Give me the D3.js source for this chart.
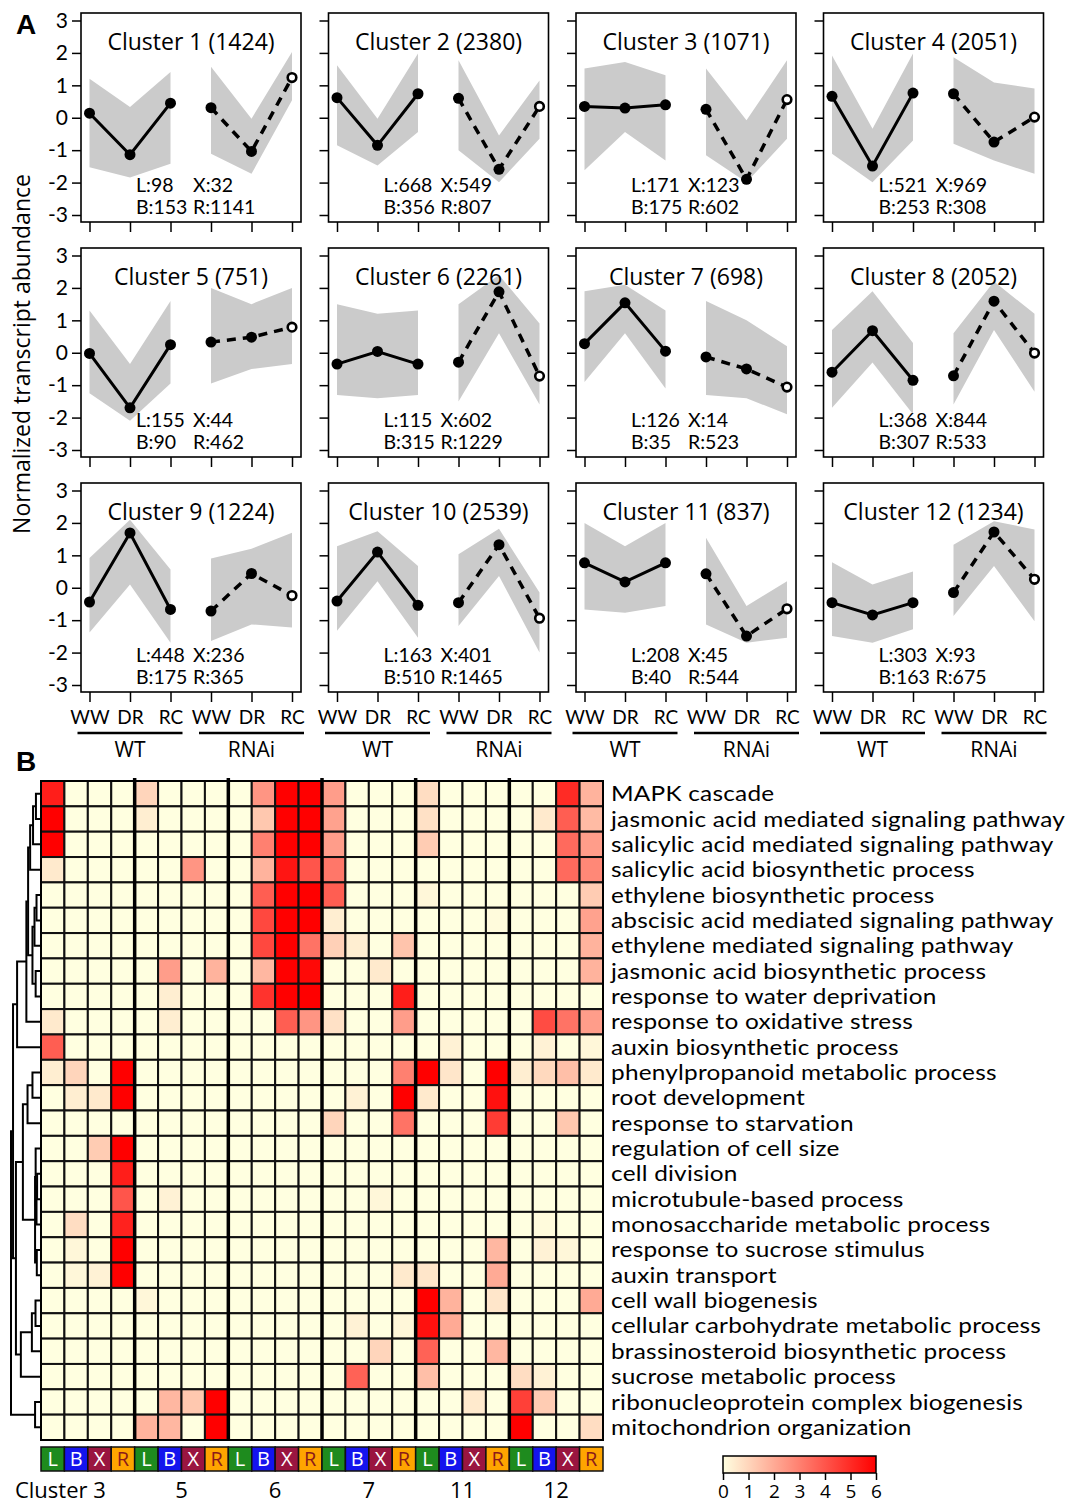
<!DOCTYPE html>
<html>
<head>
<meta charset="utf-8">
<script src="https://cdn.jsdelivr.net/npm/d3@7"></script>
<style>
  body { margin: 0; background: #fff; }
  svg { display: block; font-family: "Open Sans", Lato, sans-serif; }
</style>
</head>
<body>
<svg id="chart" width="1079" height="1505"></svg>
<script>
// ---------- Panel A: cluster expression profiles ----------
const clusterIds   = [1, 2, 3, 4, 5, 6, 7, 8, 9, 10, 11, 12];
const clusterSizes = [1424, 2380, 1071, 2051, 751, 2261, 698, 2052, 1224, 2539, 837, 1234];
const countsL = [98, 668, 171, 521, 155, 115, 126, 368, 448, 163, 208, 303];
const countsX = [32, 549, 123, 969, 44, 602, 14, 844, 236, 401, 45, 93];
const countsB = [153, 356, 175, 253, 90, 315, 35, 307, 175, 510, 40, 163];
const countsR = [1141, 807, 602, 308, 462, 1229, 523, 533, 365, 1465, 544, 675];
const conditions = ["WW", "DR", "RC"];
const genotypes  = ["WT", "RNAi"];
const yTicks = [-3, -2, -1, 0, 1, 2, 3];

// mean normalized abundance: WW, DR, RC
const meanWT = [
  [0.14, -1.14, 0.45], [0.62, -0.85, 0.74], [0.35, 0.30, 0.40], [0.66, -1.49, 0.76],
  [-0.02, -1.70, 0.25], [-0.35, 0.04, -0.35], [0.28, 1.54, 0.05], [-0.60, 0.68, -0.85],
  [-0.44, 1.69, -0.67], [-0.41, 1.10, -0.54], [0.77, 0.18, 0.77], [-0.46, -0.84, -0.46]
];
const meanRNAi = [
  [0.31, -1.04, 1.24], [0.60, -1.59, 0.35], [0.26, -1.90, 0.56], [0.74, -0.75, 0.02],
  [0.33, 0.48, 0.79], [-0.29, 1.88, -0.72], [-0.13, -0.50, -1.06], [-0.71, 1.59, -0.01],
  [-0.72, 0.44, -0.24], [-0.46, 1.33, -0.94], [0.43, -1.49, -0.65], [-0.15, 1.72, 0.26]
];
// spread of the member genes (upper / lower envelope): WT WW, DR, RC, RNAi WW, DR, RC
const bandHi = [
  [1.20, 0.33, 1.41, 1.57, -0.03, 2.03], [1.62, -0.03, 1.98, 1.77, -0.55, 1.15],
  [1.52, 1.72, 1.31, 1.52, -0.08, 1.77], [1.92, -0.34, 1.98, 1.87, 1.09, 0.90],
  [1.30, -0.35, 1.60, 2.00, 1.50, 2.00], [1.50, 1.20, 1.30, 1.50, 2.40, 0.90],
  [1.90, 2.10, 1.30, 1.60, 1.00, 0.20], [0.70, 1.90, 0.30, 0.60, 2.20, 1.20],
  [0.92, 2.10, 0.56, 0.90, 1.20, 1.70], [1.28, 1.74, 0.67, 1.03, 1.82, -0.15],
  [2.00, 1.28, 2.00, 1.54, -0.56, 0.20], [0.79, 0.10, 0.50, 1.33, 2.05, 1.80]
];
const bandLo = [
  [-1.53, -1.84, -1.42, -1.11, -1.73, 0.54], [-0.85, -1.47, -0.44, -1.00, -1.99, -0.65],
  [-1.62, -0.44, -1.32, -1.16, -1.99, -0.65], [-1.11, -1.99, -0.70, -0.80, -1.32, -1.73],
  [-1.25, -2.10, -0.95, -0.95, -0.50, -0.35], [-1.30, -1.40, -1.30, -1.50, 0.60, -1.60],
  [-0.90, 0.60, -1.10, -1.30, -1.40, -1.90], [-1.70, -0.30, -1.90, -1.60, 0.70, -1.20],
  [-1.38, 0.10, -1.70, -1.64, -1.13, -1.23], [-1.33, 0.20, -1.54, -1.18, 0.36, -2.00],
  [-0.67, -0.77, -0.56, -1.13, -1.70, -1.54], [-1.49, -1.70, -1.28, -0.87, 0.67, -1.03]
];

// ---------- Panel B: GO enrichment heatmap ----------
const goTerms = [
  "MAPK cascade",
  "jasmonic acid mediated signaling pathway",
  "salicylic acid mediated signaling pathway",
  "salicylic acid biosynthetic process",
  "ethylene biosynthetic process",
  "abscisic acid mediated signaling pathway",
  "ethylene mediated signaling pathway",
  "jasmonic acid biosynthetic process",
  "response to water deprivation",
  "response to oxidative stress",
  "auxin biosynthetic process",
  "phenylpropanoid metabolic process",
  "root development",
  "response to starvation",
  "regulation of cell size",
  "cell division",
  "microtubule-based process",
  "monosaccharide metabolic process",
  "response to sucrose stimulus",
  "auxin transport",
  "cell wall biogenesis",
  "cellular carbohydrate metabolic process",
  "brassinosteroid biosynthetic process",
  "sucrose metabolic process",
  "ribonucleoprotein complex biogenesis",
  "mitochondrion organization"
];
const heatClusters = [3, 5, 6, 7, 11, 12];
const sampleTypes  = ["L", "B", "X", "R"];
const legendTicks  = [0, 1, 2, 3, 4, 5, 6];
// enrichment score per term; columns = clusters 3,5,6,7,11,12 x L,B,X,R
const enrichment = [
  [5.3,0,0,0,   1.0,0,0,0,     0,2.5,6,6,     2.3,0,0,0,     0.8,0,0,0,     0,0,5.0,1.8],
  [6,0,0,0,     0.4,0,0,0,     0,1.3,6,6,     2.2,0,0,0,     0.7,0,0,0,     0,0.5,3.8,1.6],
  [6,0,0,0,     0,0,0,0,       0,3.0,6,6,     2.3,0,0,0,     1.2,0,0,0,     0,0,3.5,2.3],
  [0.5,0,0,0,   0,0,2.5,0,     0,1.8,5.5,4.0, 3.2,0,0,0,     0,0,0,0,       0,0,3.5,2.8],
  [0,0,0,0,     0,0,0,0,       0,3.8,6,6,     3.8,0,0,0,     0.2,0,0,0,     0,0,0,1.2],
  [0,0,0,0,     0,0,0,0,       0,4.3,6,6,     0.4,0,0,0,     0,0,0,0.1,     0,0,0,2.2],
  [0,0,0,0,     0,0,0,0,       0,4.3,6,3.3,   1.1,0.4,0,1.4, 0,0,0,0,       0,0,0,1.8],
  [0,0,0,0,     0,2.3,0,1.8,   0,1.7,6,5.8,   0,0,0.5,0,     0,0,0,0,       0,0,0,1.8],
  [0,0,0,0,     0,0.4,0,0,     0,4.8,6,6,     0,0,0,5.3,     0,0,0,0,       0,0,0,0],
  [0.5,0,0,0,   0,0.4,0,0,     0,0,3.8,2.5,   0.7,0,0,2.3,   0,0,0,0,       0,4.2,3.3,2.3],
  [3.8,0,0,0,   0,0,0,0,       0,0,0,0,       0,0,0,0,       0,0.3,0,0,     0,0.3,0,0.2],
  [0.4,1.0,0,6, 0,0,0,0,       0,0,0,0,       0,0,0,3.0,     6,0.6,0,6,     0.4,0.9,1.5,0.5],
  [0,0.4,0.5,6, 0,0,0,0,       0,0,0,0,       0,0.3,0,6,     0.5,0,0,5.6,   0,0,0,0],
  [0,0,0,0,     0,0,0,0,       0,0,0,0,       1.0,0,0,3.3,   0,0,0,4.6,     0,0,1.3,0],
  [0,0,1.2,6,   0,0,0,0,       0,0,0,0,       0,0,0,0,       0,0,0,0,       0,0,0,0],
  [0,0,0,5.3,   0,0,0,0,       0,0,0,0,       0,0,0,0,       0,0,0,0,       0,0,0,0],
  [0,0,0,4.0,   0,0.3,0,0,     0,0,0,0,       0,0,0.2,0,     0,0,0,0,       0,0,0,0],
  [0,0.8,0,5.2, 0,0,0,0,       0,0,0,0,       0,0,0,0,       0,0,0,0,       0,0.1,0,0],
  [0,0.2,0,6,   0,0,0,0,       0,0,0,0,       0,0,0,0,       0,0,0,1.7,     0,0.3,0.2,0],
  [0,0.2,0.3,6, 0,0,0,0,       0,0,0,0,       0,0,0,0.5,     0.6,0,0,2.0,   0,0,0,0],
  [0,0,0,0,     0.2,0,0,0,     0,0,0,0,       0,0,0,0,       6,1.8,0,0.6,   0,0,0,2.0],
  [0,0,0,0,     0,0,0,0,       0,0,0,0,       0,0.3,0,0.2,   5.6,2.0,0,0,   0,0,0,0],
  [0,0,0,0,     0,0,0,0,       0,0,0,0,       0,0,1.0,0,     3.7,0,0,1.7,   0,0,0,0],
  [0,0,0,0,     0,0,0,0,       0,0,0,0,       0,3.7,0,0,     1.5,0,0,0,     0.8,0.3,0,0],
  [0,0,0,0,     0,1.7,1.3,6,   0,0,0,0,       0,0,0,0,       0,0,0.5,0,     4.5,1.2,0,0],
  [0,0,0,0,     1.8,1.7,0,6,   0,0,0,0,       0,0,0,0,       0,0,0,0,       6,0,0,0.8]
];
// row clustering: hclust-style merges (negative = term row -n, positive = earlier merge)
const mergeA = [-1, 1, 2, -5, 4, -8, 5, 3, 8, 9, -12, 11, -16, 13, -15, -19, 15, 12, -21, 19, 20, 18, 10, -25, 23];
const mergeB = [-2, -3, -4, -6, -7, -9, 6, 7, -10, -11, -13, -14, -17, -18, 14, -20, 16, 17, -22, -23, -24, 21, 22, -26, 24];
const mergeH = [0.14, 0.24, 0.34, 0.12, 0.19, 0.15, 0.26, 0.41, 0.47, 0.79, 0.26, 0.43, 0.10, 0.12, 0.15, 0.11, 0.17, 0.59, 0.155, 0.28, 0.66, 0.83, 0.93, 0.17, 1.0];

const svg = d3.select("#chart");
const NUMFONT = "Lato, 'Open Sans', sans-serif";

// ===== Panel A =====
const panelW = 220, panelH = 209, colStep = 247.5, rowStep = 235, left0 = 81, top0 = 13;

svg.append("text").attr("x", 16).attr("y", 34)
  .attr("font-family", "Liberation Sans, Arial, sans-serif").attr("font-weight", "bold")
  .attr("font-size", 28).text("A");

svg.append("text")
  .attr("transform", "translate(30,354) rotate(-90)")
  .attr("text-anchor", "middle").attr("font-size", 23)
  .text("Normalized transcript abundance");

clusterIds.forEach((id, k) => {
  const c = k % 4, r = Math.floor(k / 4);
  const x0 = left0 + c * colStep, y0 = top0 + r * rowStep;
  const x = d3.scalePoint().domain(d3.range(6)).range([x0 + 8.5, x0 + 211]);
  const y = d3.scaleLinear().domain([-3, 3]).range([y0 + 202, y0 + 7.5]);
  const g = svg.append("g");

  // gene spread
  [0, 1].forEach(gt => {
    const idx = [0, 1, 2].map(i => gt * 3 + i);
    const area = d3.area()
      .x(i => x(i)).y0(i => y(bandLo[k][i])).y1(i => y(bandHi[k][i]));
    g.append("path").attr("d", area(idx)).attr("fill", "#cbcbcb");
  });

  // cluster means
  const line = d3.line().x(d => x(d.i)).y(d => y(d.v));
  const wt = meanWT[k].map((v, i) => ({ i, v }));
  const rn = meanRNAi[k].map((v, i) => ({ i: i + 3, v }));
  g.append("path").attr("d", line(wt)).attr("fill", "none")
    .attr("stroke", "#000").attr("stroke-width", 3);
  g.append("path").attr("d", line(rn)).attr("fill", "none")
    .attr("stroke", "#000").attr("stroke-width", 3.5).attr("stroke-dasharray", "9,7");
  g.selectAll("circle.wt").data(wt).join("circle")
    .attr("cx", d => x(d.i)).attr("cy", d => y(d.v)).attr("r", 5.5).attr("fill", "#000");
  g.selectAll("circle.rn").data(rn).join("circle")
    .attr("cx", d => x(d.i)).attr("cy", d => y(d.v))
    .attr("r", (d, i) => i === 2 ? 4.3 : 5.5)
    .attr("fill", (d, i) => i === 2 ? "#fff" : "#000")
    .attr("stroke", "#000").attr("stroke-width", (d, i) => i === 2 ? 2.6 : 0);

  // frame
  g.append("rect").attr("x", x0).attr("y", y0).attr("width", panelW).attr("height", panelH)
    .attr("fill", "none").attr("stroke", "#000").attr("stroke-width", 1.6);

  // axes
  const ya = g.append("g").attr("transform", `translate(${x0},0)`)
    .call(d3.axisLeft(y).tickValues(yTicks).tickSize(9).tickPadding(4)
      .tickFormat(c === 0 ? d => String(d) : ""));
  ya.select(".domain").remove();
  ya.selectAll("line").attr("stroke-width", 1.5);
  ya.selectAll("text").attr("font-size", 21).attr("font-family", NUMFONT);

  const xa = g.append("g").attr("transform", `translate(0,${y0 + panelH})`)
    .call(d3.axisBottom(x).tickSize(10).tickPadding(9)
      .tickFormat(r === 2 ? i => conditions[i % 3] : ""));
  xa.select(".domain").remove();
  xa.selectAll("line").attr("stroke-width", 1.5);
  xa.selectAll("text").attr("font-size", 19).attr("font-family", NUMFONT);

  // title and gene counts
  g.append("text").attr("x", x0 + panelW / 2).attr("y", y0 + 37)
    .attr("text-anchor", "middle").attr("font-size", 23)
    .text(`Cluster ${id} (${clusterSizes[k]})`);
  const cx = x0 + panelW / 2;
  const cnt = [
    [`L:${countsL[k]}`, cx - 55, y0 + 179], [`X:${countsX[k]}`, cx + 2, y0 + 179],
    [`B:${countsB[k]}`, cx - 55, y0 + 201], [`R:${countsR[k]}`, cx + 2, y0 + 201]
  ];
  g.selectAll("text.cnt").data(cnt).join("text").attr("class", "cnt")
    .attr("x", d => d[1]).attr("y", d => d[2])
    .attr("font-family", NUMFONT).attr("font-size", 19.5).text(d => d[0]);

  // genotype labels under the bottom row
  if (r === 2) {
    genotypes.forEach((gname, gi) => {
      const xa0 = x(gi * 3) - 12, xa1 = x(gi * 3 + 2) + 12;
      g.append("line").attr("x1", xa0).attr("x2", xa1).attr("y1", 733).attr("y2", 733)
        .attr("stroke", "#000").attr("stroke-width", 2.5);
      g.append("text").attr("x", x(gi * 3 + 1)).attr("y", 757)
        .attr("text-anchor", "middle").attr("font-size", 21).text(gname);
    });
  }
});

// ===== Panel B =====
svg.append("text").attr("x", 16).attr("y", 771)
  .attr("font-family", "Liberation Sans, Arial, sans-serif").attr("font-weight", "bold")
  .attr("font-size", 28).text("B");

const nCol = heatClusters.length * sampleTypes.length;
const hx = d3.scaleBand().domain(d3.range(nCol)).range([41, 603]);
const hy = d3.scaleBand().domain(d3.range(goTerms.length)).range([781, 1440]);
const color = d3.scaleLinear().domain([0, 6]).range(["#ffffe0", "#ff0000"]).clamp(true);

const cells = [];
enrichment.forEach((row, ri) => row.forEach((v, ci) => cells.push({ ri, ci, v })));
svg.append("g").selectAll("rect").data(cells).join("rect")
  .attr("x", d => hx(d.ci)).attr("y", d => hy(d.ri))
  .attr("width", hx.bandwidth()).attr("height", hy.bandwidth())
  .attr("fill", d => color(d.v)).attr("stroke", "#111").attr("stroke-width", 2);

// cluster separators
svg.append("g").selectAll("line").data(d3.range(1, heatClusters.length)).join("line")
  .attr("x1", d => hx(d * 4)).attr("x2", d => hx(d * 4))
  .attr("y1", 778).attr("y2", 1440).attr("stroke", "#000").attr("stroke-width", 3.5);
svg.append("rect").attr("x", 41).attr("y", 781).attr("width", 562).attr("height", 659)
  .attr("fill", "none").attr("stroke", "#000").attr("stroke-width", 2);

// term labels (slightly widened glyphs, compact line box)
svg.append("g")
  .attr("transform", "translate(611,0) scale(1.16,1)")
  .selectAll("text").data(goTerms).join("text")
  .attr("x", 0).attr("y", (d, i) => hy(i) + hy.bandwidth() / 2)
  .attr("dy", "0.36em").attr("font-family", NUMFONT).attr("font-size", 21)
  .attr("letter-spacing", 0.2).text(d => d);

// dendrogram
const dx = d3.scaleLinear().domain([0, 1]).range([40, 11]);
const nodes = [];
const pos = id => id < 0
  ? { y: hy(-id - 1) + hy.bandwidth() / 2, h: 0 }
  : nodes[id - 1];
const dend = svg.append("g").attr("fill", "none").attr("stroke", "#000").attr("stroke-width", 2);
mergeA.forEach((a, i) => {
  const A = pos(a), B = pos(mergeB[i]), h = mergeH[i];
  nodes.push({ y: (A.y + B.y) / 2, h });
  dend.append("path").attr("d",
    `M${dx(A.h)},${A.y}H${dx(h)}V${B.y}H${dx(B.h)}`);
});

// sample type strip
const typeFill = { L: "#1e8b1e", B: "#1414ee", X: "#9a1540", R: "#ffa500" };
const typeText = { L: "#fff", B: "#fff", X: "#fff", R: "#8b1a1a" };
const strip = svg.append("g");
d3.range(nCol).forEach(ci => {
  const t = sampleTypes[ci % 4];
  strip.append("rect").attr("x", hx(ci)).attr("y", 1447)
    .attr("width", hx.bandwidth()).attr("height", 24)
    .attr("fill", typeFill[t]).attr("stroke", "#111").attr("stroke-width", 1.5);
  strip.append("text").attr("x", hx(ci) + hx.bandwidth() / 2).attr("y", 1466)
    .attr("text-anchor", "middle").attr("font-size", 20).attr("fill", typeText[t]).text(t);
});
heatClusters.forEach((cl, gi) => {
  const cxg = hx(gi * 4) + 2 * hx.bandwidth();
  svg.append("text")
    .attr("x", gi === 0 ? cxg + 18 : cxg).attr("y", 1498)
    .attr("text-anchor", gi === 0 ? "end" : "middle")
    .attr("font-size", 22).text(gi === 0 ? `Cluster ${cl}` : cl);
});

// colour key
const lx = d3.scaleLinear().domain([0, 6]).range([723, 876]);
const grad = svg.append("defs").append("linearGradient").attr("id", "keygrad");
legendTicks.forEach(v => grad.append("stop")
  .attr("offset", `${(v / 6) * 100}%`).attr("stop-color", color(v)));
svg.append("rect").attr("x", 723).attr("y", 1456).attr("width", 153).attr("height", 17)
  .attr("fill", "url(#keygrad)").attr("stroke", "#000").attr("stroke-width", 1.5);
const la = svg.append("g").attr("transform", "translate(0,1473)")
  .call(d3.axisBottom(lx).tickValues(legendTicks).tickFormat(d3.format("d"))
    .tickSize(7).tickPadding(5));
la.select(".domain").remove();
la.selectAll("line").attr("stroke-width", 1.5);
la.selectAll("text").attr("font-size", 19).attr("font-family", "'Open Sans', sans-serif");
</script>
</body>
</html>
